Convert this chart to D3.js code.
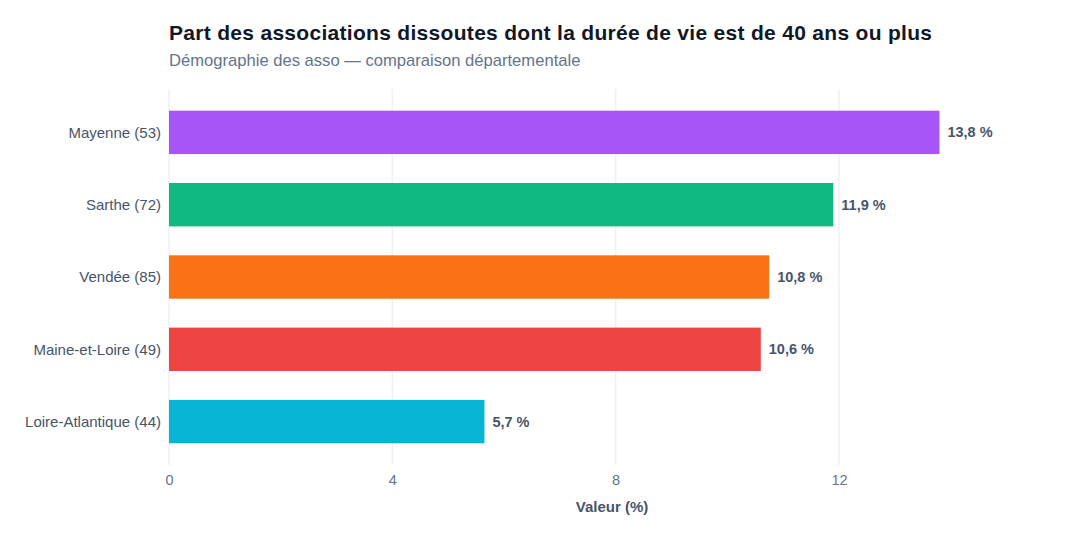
<!DOCTYPE html>
<html>
<head>
<meta charset="utf-8">
<script src="https://cdn.jsdelivr.net/npm/d3@7"></script>
<style>
  body { margin: 0; background: #fff; }
  svg { font-family: "Liberation Sans", Arial, sans-serif; }
</style>
</head>
<body>
<svg id="chart" width="1080" height="540"></svg>
<script>
// data
const departements = ['Mayenne (53)', 'Sarthe (72)', 'Vendée (85)', 'Maine-et-Loire (49)', 'Loire-Atlantique (44)'];
const valeurs = [13.8, 11.9, 10.75, 10.6, 5.65];
const couleurs = ['#a855f7', '#10b981', '#f97316', '#ef4444', '#06b6d4'];
const ticks = [0, 4, 8, 12];

const margin = { top: 89, right: 25, bottom: 75, left: 169 };
const width = 1080 - margin.left - margin.right;
const height = 540 - margin.top - margin.bottom;

const svg = d3.select('#chart');

svg.append('text')
  .attr('x', margin.left)
  .attr('y', 40)
  .attr('fill', '#0f172a')
  .style('font-size', '21px')
  .style('font-weight', 'bold')
  .style('letter-spacing', '0.3px')
  .text('Part des associations dissoutes dont la durée de vie est de 40 ans ou plus');

svg.append('text')
  .attr('x', margin.left)
  .attr('y', 66)
  .attr('fill', '#64748b')
  .style('font-size', '16.6px')
  .text('Démographie des asso — comparaison départementale');

const g = svg.append('g')
  .attr('transform', `translate(${margin.left},${margin.top})`);

const x = d3.scaleLinear()
  .domain([0, d3.max(valeurs) * 1.15])
  .range([0, width]);

const y = d3.scaleBand()
  .domain(departements)
  .range([0, height])
  .paddingInner(0.4)
  .paddingOuter(0.3);

// grid
g.selectAll('.grid')
  .data(ticks)
  .enter()
  .append('line')
  .attr('x1', d => x(d))
  .attr('x2', d => x(d))
  .attr('y1', 0)
  .attr('y2', height)
  .attr('stroke', '#eef2f6')
  .attr('stroke-width', 1.5);

// bars
g.selectAll('.bar')
  .data(valeurs)
  .enter()
  .append('rect')
  .attr('x', 0)
  .attr('y', (d, i) => y(departements[i]))
  .attr('width', d => x(d))
  .attr('height', y.bandwidth())
  .attr('fill', (d, i) => couleurs[i]);

// value labels
g.selectAll('.val')
  .data(valeurs)
  .enter()
  .append('text')
  .attr('x', d => x(d) + 8)
  .attr('y', (d, i) => y(departements[i]) + y.bandwidth() / 2)
  .attr('dy', '0.35em')
  .attr('fill', '#475569')
  .style('font-size', '14.5px')
  .style('font-weight', 'bold')
  .text(d => (Math.round(d * 10) / 10).toFixed(1).replace('.', ',') + ' %');

// y axis labels
g.selectAll('.cat')
  .data(departements)
  .enter()
  .append('text')
  .attr('x', -8)
  .attr('y', d => y(d) + y.bandwidth() / 2)
  .attr('dy', '0.35em')
  .attr('text-anchor', 'end')
  .attr('fill', '#475569')
  .style('font-size', '15px')
  .text(d => d);

// x axis
const xAxis = g.append('g')
  .attr('transform', `translate(0,${height})`)
  .call(d3.axisBottom(x).tickValues(ticks).tickSize(0).tickPadding(10));
xAxis.select('.domain').remove();
xAxis.selectAll('text')
  .attr('fill', '#64748b')
  .style('font-size', '14.5px')
  .style('font-family', '"Liberation Sans", Arial, sans-serif');

g.append('text')
  .attr('x', width / 2)
  .attr('y', height + 47)
  .attr('text-anchor', 'middle')
  .attr('fill', '#475569')
  .style('font-size', '15px')
  .style('font-weight', 'bold')
  .text('Valeur (%)');
</script>
</body>
</html>
